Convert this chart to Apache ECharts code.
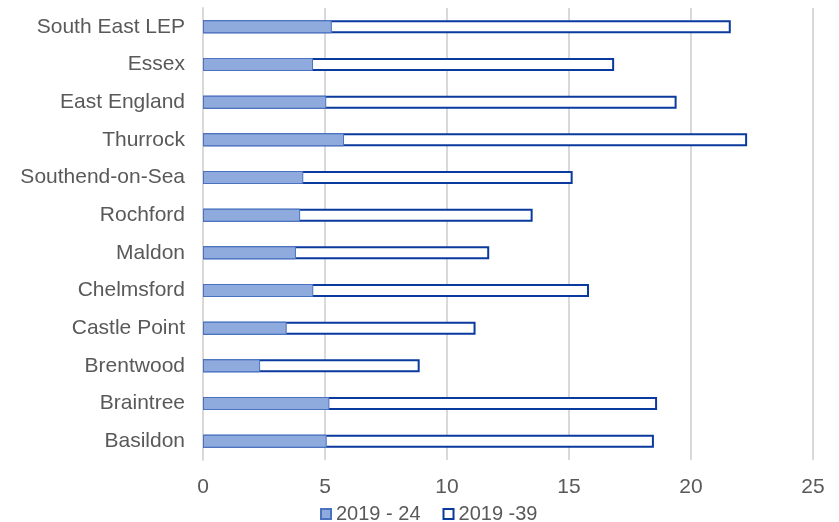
<!DOCTYPE html>
<html>
<head>
<meta charset="utf-8">
<script src="https://cdn.jsdelivr.net/npm/echarts@6/dist/echarts.min.js"></script>
<style>
  html, body { margin: 0; padding: 0; background: #ffffff; }
  #chart { width: 839px; height: 522px; }
</style>
</head>
<body>
<div id="chart"></div>
<script>
// Areas, listed top to bottom
const areas = [
  'South East LEP', 'Essex', 'East England', 'Thurrock', 'Southend-on-Sea',
  'Rochford', 'Maldon', 'Chelmsford', 'Castle Point', 'Brentwood',
  'Braintree', 'Basildon'
];

// Growth for the short period, 2019 - 24
const growth2024 = [5.28, 4.51, 5.05, 5.78, 4.11, 3.98, 3.81, 4.52, 3.43, 2.34, 5.18, 5.07];

// Growth for the long period, 2019 - 39
const growth2039 = [21.63, 16.85, 19.41, 22.3, 15.15, 13.51, 11.73, 15.82, 11.17, 8.88, 18.61, 18.48];

// Value axis ticks
const xTicks = [0, 5, 10, 15, 20, 25];

const seriesNames = ['2019 - 24', '2019 -39'];

const textColor = '#595959';
const gridColor = '#d9d9d9';
const fontFamily = '"Liberation Sans", Arial, sans-serif';

const chart = echarts.init(document.getElementById('chart'), null, { renderer: 'canvas' });

chart.setOption({
  animation: false,
  backgroundColor: '#ffffff',
  grid: { left: 203, right: 26, top: 8, bottom: 62, containLabel: false },
  legend: {
    data: seriesNames,
    icon: 'rect',
    top: 499,
    left: 315,
    itemWidth: 10,
    itemHeight: 10,
    itemGap: 22,
    textStyle: { color: textColor, fontSize: 20, fontFamily: fontFamily }
  },
  xAxis: {
    type: 'value',
    min: xTicks[0],
    max: xTicks[xTicks.length - 1],
    interval: xTicks[1] - xTicks[0],
    axisLine: { show: false },
    axisTick: { show: false },
    splitLine: { show: true, lineStyle: { color: gridColor, width: 2 } },
    axisLabel: { color: textColor, fontSize: 21, fontFamily: fontFamily, margin: 17 }
  },
  yAxis: {
    type: 'category',
    data: areas,
    inverse: true,
    axisLine: { show: true, lineStyle: { color: gridColor, width: 2 } },
    axisTick: { show: false },
    axisLabel: { color: textColor, fontSize: 21, fontFamily: fontFamily, margin: 18 }
  },
  series: [
    {
      name: seriesNames[1],
      type: 'bar',
      data: growth2039,
      barWidth: 13,
      barGap: '-100%',
      z: 2,
      itemStyle: { color: '#ffffff', borderColor: '#0a3a9e', borderWidth: 2 }
    },
    {
      name: seriesNames[0],
      type: 'bar',
      data: growth2024,
      barWidth: 13,
      barGap: '-100%',
      z: 3,
      itemStyle: { color: '#8faadc', borderColor: '#4a72c0', borderWidth: 1 }
    }
  ]
});
</script>
</body>
</html>
